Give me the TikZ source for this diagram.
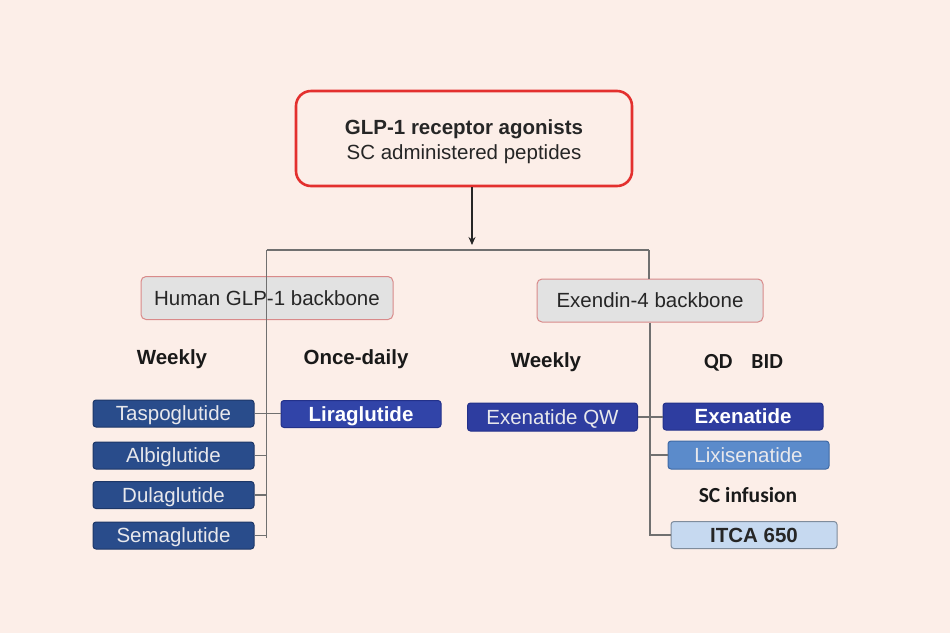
\documentclass[tikz,border=0pt]{standalone}
\usepackage{fontspec}
\setmainfont{Liberation Sans}
\newfontfamily\calib{Carlito}
\usetikzlibrary{arrows.meta}
\definecolor{bgc}{HTML}{FCEEE8}
\definecolor{redb}{HTML}{E3302E}
\definecolor{grayfill}{HTML}{E2E2E2}
\definecolor{pinkb}{HTML}{D98A8A}
\definecolor{dkblue}{HTML}{294C8B}
\definecolor{dkblueb}{HTML}{1D3768}
\definecolor{royal}{HTML}{3144A8}
\definecolor{royalb}{HTML}{23318A}
\definecolor{exblue}{HTML}{2E3DA0}
\definecolor{medblue}{HTML}{5B8BCB}
\definecolor{medblueb}{HTML}{3F6AA5}
\definecolor{ltblue}{HTML}{C6D9F0}
\definecolor{ltblueb}{HTML}{7F8C9C}
\definecolor{conn}{HTML}{707070}
\definecolor{txtlt}{HTML}{E8E8EC}
\tikzset{
  fs/.style={font=\fontsize{20.5}{24}\selectfont},
  capc/.style={text height=14.7pt, text depth=0pt},
  topbox/.style={draw=redb, line width=2.6pt, fill=bgc, rounded corners=15pt,
    minimum width=336pt, minimum height=95pt, inner sep=0pt},
  toptxt/.style={align=center, inner sep=0pt,
    font=\fontsize{20.5}{25.5}\selectfont, text=black!85},
  backbone/.style={draw=pinkb, line width=1pt, fill=grayfill, rounded corners=5pt,
    minimum height=43pt, inner sep=0pt, fs, capc, text=black!85},
  drug/.style={rounded corners=3pt, minimum height=27pt, inner sep=0pt, line width=1pt, fs, capc},
  leftdrug/.style={drug, fill=dkblue, draw=dkblueb, minimum width=161pt, text=txtlt},
  boldfs/.style={font=\fontsize{20.5}{24}\selectfont\bfseries},
  heading/.style={boldfs, text=black!90},
  calhead/.style={font=\fontsize{21.5}{24}\calib\bfseries, text=black!90},
  conn/.style={draw=conn, line width=1.4pt},
}
\begin{document}
\begin{tikzpicture}[x=1pt,y=-1pt]
\fill[bgc] (0,0) rectangle (950,633);
\useasboundingbox (0,0) rectangle (950,633);

\node[topbox] (top) at (464,138.5) {};
\node[toptxt] (toptext) at (464,141.5) {\textbf{GLP-1 receptor agonists}\\SC administered peptides};

\coordinate (hl) at (266.5,250);
\coordinate (hr) at (649,250);
\coordinate (lb) at (266.5,538);
\coordinate (arrtop) at ([xshift=8pt]top.south);

\node[backbone, minimum width=252pt] (human) at (267,298) {Human GLP-1 backbone};
\node[backbone, minimum width=226pt] (exendin) at (650,300.5) {Exendin-4 backbone};

\node[heading] (wk1) at (172,359) {Weekly};
\node[heading] (od) at (356,359) {Once-daily};
\node[heading] (wk2) at (546,362) {Weekly};
\node[calhead] (qdbid) at (743.5,363) {QD\hspace{19pt}BID};
\node[calhead] (scinf) at (748,495) {SC infusion};

\node[leftdrug] (tasp) at (173.5,413.5) {Taspoglutide};
\node[leftdrug] (albi) at (173.5,455.5) {Albiglutide};
\node[leftdrug] (dula) at (173.5,495) {Dulaglutide};
\node[leftdrug] (sema) at (173.5,535.5) {Semaglutide};
\node[drug, fill=royal, draw=royalb, minimum width=160pt, text=white, boldfs] (lira) at (361,414) {Liraglutide};

\node[drug, fill=exblue, draw=royalb, minimum width=170pt, minimum height=28pt, text=txtlt] (exqw) at (552.5,417) {Exenatide QW};
\node[drug, fill=exblue, draw=royalb, minimum width=160pt, text=white, boldfs] (exen) at (743,416.5) {Exenatide};
\node[drug, fill=medblue, draw=medblueb, minimum width=161pt, minimum height=28pt, text=txtlt] (lixi) at (748.5,455) {Lixisenatide};
\node[drug, fill=ltblue, draw=ltblueb, minimum width=166pt, text=black!85, boldfs] (itca) at (754,535) {ITCA 650};

% connectors
\draw[conn] (hl) -- (hr);
\draw[conn] (hl) -- (lb);
\draw[conn] (hr) -- (hr |- exendin.north);
\draw[-{Stealth[length=8pt,width=7pt]}, line width=1.8pt, black!85, shorten >=5pt] (arrtop) -- (arrtop |- hl);

\draw[conn] (tasp.east) -- (tasp.east -| lira.west);
\draw[conn] (albi.east) -- (albi.east -| hl);
\draw[conn] (dula.east) -- (dula.east -| hl);
\draw[conn] (sema.east) -- (sema.east -| hl);

\draw[conn] (exendin.south) |- (itca.west);
\draw[conn] (exqw.east) -- (exqw.east -| exen.west);
\draw[conn] (lixi.west) -- (lixi.west -| exendin.south);
\end{tikzpicture}
\end{document}
